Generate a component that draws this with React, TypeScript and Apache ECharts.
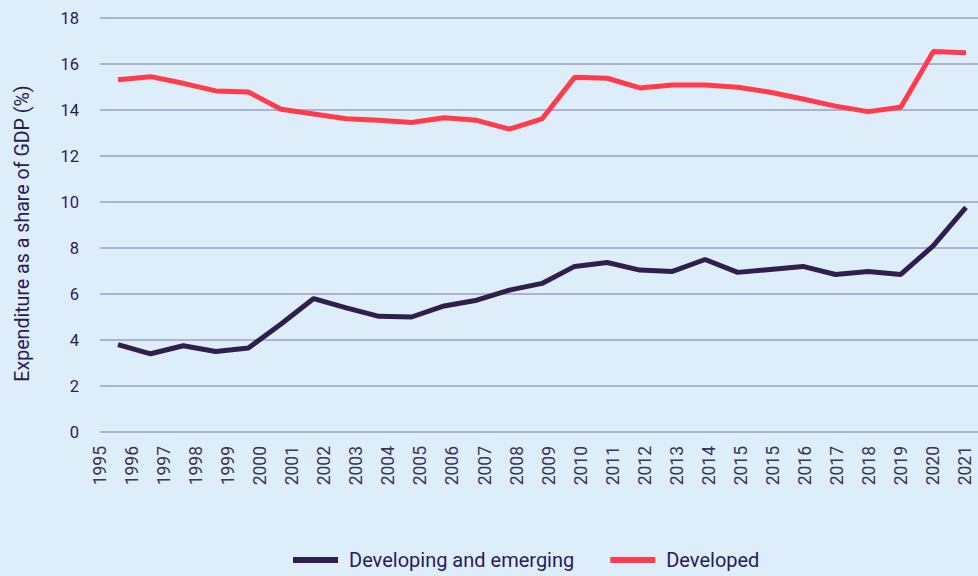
import React, { useEffect, useRef } from "react";
import * as echarts from "echarts";

const years = [
  1995, 1996, 1997, 1998, 1999, 2000, 2001, 2002, 2003, 2004, 2005, 2006, 2007, 2008,
  2009, 2010, 2011, 2012, 2013, 2014, 2015, 2016, 2017, 2018, 2019, 2020, 2021,
];

const tickLabels = [
  "1995", "1996", "1997", "1998", "1999", "2000", "2001", "2002", "2003", "2004",
  "2005", "2006", "2007", "2008", "2009", "2010", "2011", "2012", "2013", "2014",
  "2015", "2015", "2016", "2017", "2018", "2019", "2020", "2021",
];

const developingEmerging = [
  3.8, 3.4, 3.75, 3.5, 3.65, 4.7, 5.8, 5.4, 5.03, 5.0, 5.48, 5.73, 6.17, 6.46,
  7.2, 7.37, 7.04, 6.98, 7.5, 6.94, 7.07, 7.2, 6.85, 6.98, 6.85, 8.1, 9.77,
];

const developed = [
  15.32, 15.45, 15.16, 14.83, 14.78, 14.03, 13.83, 13.62, 13.55, 13.46, 13.66, 13.55,
  13.17, 13.61, 15.42, 15.38, 14.96, 15.09, 15.09, 14.99, 14.77, 14.48, 14.17, 13.93,
  14.12, 16.54, 16.49,
];

const yAxisTitle = "Expenditure as a share of GDP (%)";

const BG = "#ddeefa";
const TEXT = "#2a1a5a";
const FONT = "Roboto";

export default function App() {
  const ref = useRef<HTMLDivElement>(null);

  useEffect(() => {
    document.body.style.margin = "0";
    document.body.style.background = BG;
    if (!ref.current) return;
    const chart = echarts.init(ref.current, undefined, { renderer: "svg" });
    chart.setOption({
      animation: false,
      backgroundColor: BG,
      textStyle: { fontFamily: FONT },
      grid: { left: 100, top: 18, width: 878, height: 414 },
      graphic: [
        {
          type: "text",
          x: 22,
          y: 233.5,
          rotation: Math.PI / 2,
          style: {
            text: yAxisTitle,
            align: "center",
            verticalAlign: "middle",
            fontFamily: FONT,
            fontSize: 19.6,
            fill: TEXT,
          },
        },
      ],
      legend: {
        left: 293,
        top: 545,
        padding: 0,
        icon: "rect",
        itemWidth: 45,
        itemHeight: 6,
        itemGap: 36,
        textStyle: {
          fontFamily: FONT,
          fontSize: 20,
          color: TEXT,
          padding: [0, 0, 0, 6],
          lineHeight: 30,
        },
        data: ["Developing and emerging", "Developed"],
      },
      xAxis: [
        {
          type: "value",
          min: 0,
          max: 27.4,
          interval: 1,
          position: "bottom",
          axisLine: { show: false },
          axisTick: { show: false },
          splitLine: { show: false },
          axisLabel: {
            rotate: 90,
            margin: 14,
            fontSize: 17.5,
            fontFamily: FONT,
            color: "#3b3358",
            showMaxLabel: false,
            formatter: (v: number) =>
              Number.isInteger(v) && tickLabels[v] !== undefined ? tickLabels[v] : "",
          },
        },
        {
          type: "value",
          min: 1994.448,
          max: 2021.368,
          show: false,
          splitLine: { show: false },
        },
      ],
      yAxis: {
        type: "value",
        min: 0,
        max: 18,
        interval: 2,
        axisLine: { show: false },
        axisTick: { show: false },
        axisLabel: {
          margin: 21,
          fontSize: 16.5,
          fontFamily: FONT,
          color: TEXT,
        },
        splitLine: { lineStyle: { color: "#9e9ec4", width: 1.5 } },
      },
      series: [
        {
          name: "Developing and emerging",
          type: "line",
          xAxisIndex: 1,
          data: years.map((y, i) => [y, developingEmerging[i]]),
          showSymbol: false,
          symbol: "none",
          lineStyle: { color: "#2e1f4d", width: 5 },
          itemStyle: { color: "#2e1f4d" },
        },
        {
          name: "Developed",
          type: "line",
          xAxisIndex: 1,
          data: years.map((y, i) => [y, developed[i]]),
          showSymbol: false,
          symbol: "none",
          lineStyle: { color: "#ff3b4c", width: 5 },
          itemStyle: { color: "#ff3b4c" },
        },
      ],
    });
    return () => chart.dispose();
  }, []);

  return <div ref={ref} style={{ width: 978, height: 576 }} />;
}
